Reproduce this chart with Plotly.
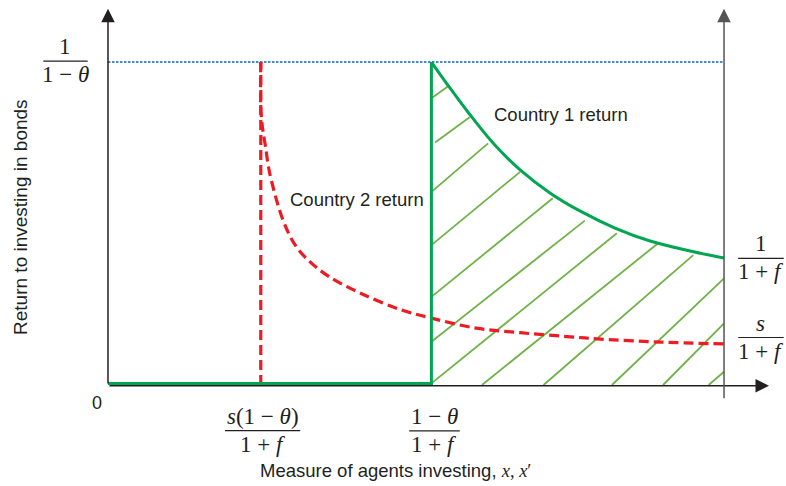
import plotly.graph_objects as go

# ---------------- data (chart units: x 0..100 = left axis..right axis, y 0..100 = axis..1/(1-θ)) ----
x_cut2 = 24.8      # s(1-θ)/(1+f)
x_cut1 = 52.5      # (1-θ)/(1+f)
x_right = 100.0
y_top = 100.0      # 1/(1-θ)
y_c1_end = 39.3    # 1/(1+f)
y_c2_end = 12.7    # s/(1+f)
y_base_green = 0.5

# Country 1 return curve
c1_x = [52.5, 55.5, 58.8, 62.8, 66.9, 71.8, 76.6, 82.3, 88.0, 94.5, 100.0]
c1_y = [100.0, 92.0, 83.6, 74.3, 66.6, 59.4, 53.9, 48.6, 44.6, 41.5, 39.3]

# Country 2 return curve
c2_x = [24.8, 24.8, 25.0, 25.2, 25.6, 26.0, 26.5, 28.4, 30.4, 32.8, 36.0, 40.9, 47.4,
        52.5, 59.8, 66.9, 74.5, 80.9, 89.6, 100.0]
c2_y = [100.0, 86.0, 81.0, 78.0, 73.5, 68.1, 63.5, 51.1, 43.3, 38.1, 33.4, 28.5, 23.4,
        20.7, 17.6, 16.2, 15.0, 14.1, 13.3, 12.7]

# hatch segments (start / end)
hatch_x0 = [52.5, 53.1, 52.5, 52.5, 52.5, 52.5, 52.5, 60.7, 70.7, 81.8, 90.1, 97.5]
hatch_y0 = [88.8, 75.1, 59.8, 43.3, 27.3, 13.4, 0.5, 0.0, 0.0, 0.0, 0.0, 0.0]
hatch_x1 = [55.4, 58.7, 61.7, 66.9, 72.2, 77.4, 82.6, 89.3, 95.0, 100.0, 100.0, 100.0]
hatch_y1 = [92.7, 82.9, 74.8, 66.0, 57.8, 50.9, 47.0, 43.9, 40.2, 33.0, 19.1, 4.1]

# ---------------- styles ----------------
GREEN = "rgb(0,166,81)"
HATCH = "rgb(112,178,72)"
RED = "rgb(237,28,36)"
BLUE = "rgb(72,140,205)"
INK = "#231f20"
SANS = "Liberation Sans, Arial, sans-serif"
SERIF = "Liberation Serif, Times New Roman, serif"

fig = go.Figure()

# hatching
for x0, y0, x1, y1 in zip(hatch_x0, hatch_y0, hatch_x1, hatch_y1):
    fig.add_trace(go.Scatter(x=[x0, x1], y=[y0, y1], mode="lines",
                             line=dict(color=HATCH, width=1.8), hoverinfo="skip"))

# blue dotted top line
fig.add_trace(go.Scatter(x=[0, x_right], y=[y_top, y_top], mode="lines",
                         line=dict(color=BLUE, width=2.2, dash="2.5px,1.5px")))

# red dashed vertical + curve
fig.add_trace(go.Scatter(x=[x_cut2, x_cut2], y=[0, y_top], mode="lines",
                         line=dict(color=RED, width=3.2, dash="10px,5px")))
fig.add_trace(go.Scatter(x=c2_x, y=c2_y, mode="lines", line_shape="spline",
                         line=dict(color=RED, width=3.2, dash="10px,5px")))

# green lines
fig.add_trace(go.Scatter(x=[0, x_cut1, x_cut1], y=[y_base_green, y_base_green, y_top],
                         mode="lines", line=dict(color=GREEN, width=3)))
fig.add_trace(go.Scatter(x=c1_x, y=c1_y, mode="lines", line_shape="spline",
                         line=dict(color=GREEN, width=3)))

# axes with arrows
def arrow(xh, yh, xt, yt, color=INK, w=1.5):
    fig.add_annotation(x=xh, y=yh, ax=xt, ay=yt, xref="x", yref="y", axref="x", ayref="y",
                       showarrow=True, arrowhead=2, arrowsize=1.8, arrowwidth=w,
                       arrowcolor=color, text="")

arrow(0, 116.5, 0, 0)                 # left axis
arrow(107.3, -0.2, 0, -0.2)           # bottom axis
arrow(x_right, 116.5, x_right, -4.6, color="#555555")  # right axis

# ---------------- text ----------------
def frac(xc, yc, num, den, half, size=23):
    fig.add_annotation(x=xc, y=yc, text=num, showarrow=False, yanchor="bottom", yshift=0,
                       font=dict(family=SERIF, size=size, color=INK))
    fig.add_annotation(x=xc, y=yc, text=den, showarrow=False, yanchor="top", yshift=1,
                       font=dict(family=SERIF, size=size, color=INK))
    fig.add_shape(type="line", x0=xc - half, x1=xc + half, y0=yc, y1=yc,
                  line=dict(color=INK, width=1.2))

frac(-6.9, 100.3, "1", "1 − <i>θ</i>", 3.6)          # left top
frac(x_cut2 + 0.3, -14.1, "<i>s</i>(1 − <i>θ</i>)", "1 + <i>f</i>", 6.1)
frac(x_cut1 + 0.5, -14.2, "1 − <i>θ</i>", "1 + <i>f</i>", 4.1)
frac(106.0, 39.2, "1", "1 + <i>f</i>", 3.7)
frac(106.0, 14.7, "<i>s</i>", "1 + <i>f</i>", 3.7)

fig.add_annotation(x=73.5, y=83.6, text="Country 1 return", showarrow=False,
                   font=dict(family=SANS, size=18.5, color=INK))
fig.add_annotation(x=40.5, y=57.3, text="Country 2 return", showarrow=False,
                   font=dict(family=SANS, size=18.5, color=INK))
fig.add_annotation(x=-1.8, y=-5.7, text="0", showarrow=False,
                   font=dict(family=SANS, size=18, color=INK))
fig.add_annotation(x=46.6, y=-26.6,
                   text='Measure of agents investing, <span style="font-family:Liberation Serif"><i>x</i>, <i>x</i>′</span>',
                   showarrow=False, font=dict(family=SANS, size=18.5, color=INK))
fig.add_annotation(x=-14.3, y=52.0, text="Return to investing in bonds", textangle=-90,
                   showarrow=False, font=dict(family=SANS, size=19, color=INK))

fig.update_layout(
    width=786, height=486, margin=dict(l=0, r=0, t=0, b=0),
    paper_bgcolor="white", plot_bgcolor="white", showlegend=False,
    xaxis=dict(range=[-17.53, 110.06], visible=False, fixedrange=True),
    yaxis=dict(range=[-31.27, 119.2], visible=False, fixedrange=True),
)

fig.write_html("out.html", config={"displayModeBar": False},
               post_script="document.body.style.margin='0';")
